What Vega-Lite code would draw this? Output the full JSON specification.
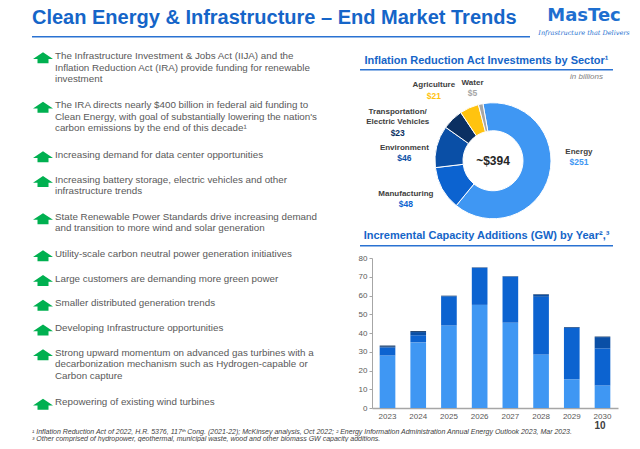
{
  "$schema": "https://vega.github.io/schema/vega-lite/v6.json",
  "background": "white",
  "padding": {"left": 32, "top": 6, "right": 0, "bottom": 0},
  "config": {
    "view": {"stroke": null},
    "font": "Liberation Sans",
    "title": {"font": "Liberation Sans", "subtitleFont": "Liberation Sans"},
    "axis": {"labelFont": "Liberation Sans", "titleFont": "Liberation Sans"},
    "legend": {"labelFont": "Liberation Sans"}
  },
  "datasets": {
    "bullets": [
      {"text": "The Infrastructure Investment & Jobs Act (IIJA) and the\nInflation Reduction Act (IRA) provide funding for renewable\ninvestment", "span": 4},
      {"text": "The IRA directs nearly $400 billion in federal aid funding to\nClean Energy, with goal of substantially lowering the nation's\ncarbon emissions by the end of this decade¹", "span": 4},
      {"text": "Increasing demand for data center opportunities", "span": 2},
      {"text": "Increasing battery storage, electric vehicles and other\ninfrastructure trends", "span": 3},
      {"text": "State Renewable Power Standards drive increasing demand\nand transition to more wind and solar generation", "span": 3},
      {"text": "Utility-scale carbon neutral power generation initiatives", "span": 2},
      {"text": "Large customers are demanding more green power", "span": 2},
      {"text": "Smaller distributed generation trends", "span": 2},
      {"text": "Developing Infrastructure opportunities", "span": 2},
      {"text": "Strong upward momentum on advanced gas turbines with a\ndecarbonization mechanism such as Hydrogen-capable or\nCarbon capture", "span": 4},
      {"text": "Repowering of existing wind turbines", "span": 2}
    ],
    "ira": [
      {"sector": "Energy", "value": 251},
      {"sector": "Manufacturing", "value": 48},
      {"sector": "Environment", "value": 46},
      {"sector": "Transportation/\nElectric Vehicles", "value": 23},
      {"sector": "Agriculture", "value": 21},
      {"sector": "Water", "value": 5}
    ],
    "capacity": [
      {"year": "2023", "source": "Solar", "k": 1, "gw": 28},
      {"year": "2023", "source": "Onshore Wind", "k": 2, "gw": 4.2},
      {"year": "2023", "source": "Offshore Wind", "k": 3, "gw": 0.5},
      {"year": "2023", "source": "Other", "k": 4, "gw": 0.6},
      {"year": "2024", "source": "Solar", "k": 1, "gw": 35},
      {"year": "2024", "source": "Onshore Wind", "k": 2, "gw": 3.8},
      {"year": "2024", "source": "Offshore Wind", "k": 3, "gw": 1.7},
      {"year": "2024", "source": "Other", "k": 4, "gw": 0.5},
      {"year": "2025", "source": "Solar", "k": 1, "gw": 44},
      {"year": "2025", "source": "Onshore Wind", "k": 2, "gw": 15.6},
      {"year": "2025", "source": "Offshore Wind", "k": 3, "gw": 0},
      {"year": "2025", "source": "Other", "k": 4, "gw": 0.3},
      {"year": "2026", "source": "Solar", "k": 1, "gw": 55},
      {"year": "2026", "source": "Onshore Wind", "k": 2, "gw": 19.8},
      {"year": "2026", "source": "Offshore Wind", "k": 3, "gw": 0},
      {"year": "2026", "source": "Other", "k": 4, "gw": 0.2},
      {"year": "2027", "source": "Solar", "k": 1, "gw": 45.5},
      {"year": "2027", "source": "Onshore Wind", "k": 2, "gw": 24.6},
      {"year": "2027", "source": "Offshore Wind", "k": 3, "gw": 0},
      {"year": "2027", "source": "Other", "k": 4, "gw": 0.2},
      {"year": "2028", "source": "Solar", "k": 1, "gw": 28.5},
      {"year": "2028", "source": "Onshore Wind", "k": 2, "gw": 30.8},
      {"year": "2028", "source": "Offshore Wind", "k": 3, "gw": 1.1},
      {"year": "2028", "source": "Other", "k": 4, "gw": 0.3},
      {"year": "2029", "source": "Solar", "k": 1, "gw": 15.3},
      {"year": "2029", "source": "Onshore Wind", "k": 2, "gw": 27.6},
      {"year": "2029", "source": "Offshore Wind", "k": 3, "gw": 0},
      {"year": "2029", "source": "Other", "k": 4, "gw": 0.3},
      {"year": "2030", "source": "Solar", "k": 1, "gw": 12},
      {"year": "2030", "source": "Onshore Wind", "k": 2, "gw": 19.8},
      {"year": "2030", "source": "Offshore Wind", "k": 3, "gw": 6},
      {"year": "2030", "source": "Other", "k": 4, "gw": 0.3}
    ]
  },
  "bounds": "flush",
  "spacing": 15,
  "vconcat": [
    {
      "bounds": "flush",
      "spacing": 4,
      "hconcat": [
        {
          "width": 498, "height": 1.5,
          "view": {"fill": "#2a72d2", "stroke": null},
          "title": {"text": "Clean Energy & Infrastructure – End Market Trends", "anchor": "start", "fontSize": 20, "fontWeight": "bold", "color": "#1565C8", "offset": 8},
          "data": {"values": []},
          "mark": "point"
        },
        {
          "width": 100, "height": 1.5,
          "title": {"text": "MasTec", "subtitle": "Infrastructure that Delivers", "anchor": "middle", "font": "DejaVu Sans", "fontSize": 18, "fontWeight": "bold", "color": "#1e6fd0", "subtitleFont": "DejaVu Serif", "subtitleFontStyle": "italic", "subtitleFontSize": 6.5, "subtitleColor": "#1e6fd0", "subtitlePadding": 5, "offset": 0},
          "data": {"values": []},
          "mark": "point"
        }
      ]
    },
    {
      "bounds": "flush",
      "spacing": 294,
      "hconcat": [
        {
          "width": 34, "height": 346.4,
          "title": {"text": "¹ Inflation Reduction Act of 2022, H.R. 5376, 117ᵗʰ Cong. (2021-22); McKinsey analysis, Oct 2022; ² Energy Information Administration Annual Energy Outlook 2023, Mar 2023.", "subtitle": "³ Other comprised of hydropower, geothermal, municipal waste, wood and other biomass GW capacity additions.", "orient": "bottom", "anchor": "start", "fontSize": 7, "fontStyle": "italic", "fontWeight": "normal", "color": "#404040", "subtitleFontSize": 7, "subtitleFontStyle": "italic", "subtitleColor": "#404040", "subtitlePadding": 0, "offset": 18},
          "data": {"name": "bullets"},
          "transform": [{"window": [{"op": "sum", "field": "span", "as": "start"}], "frame": [null, -1]}],
          "encoding": {
            "y": {"field": "start", "type": "quantitative", "scale": {"domain": [0, 28], "reverse": true, "zero": false, "nice": false}, "axis": null}
          },
          "layer": [
            {
              "mark": {"type": "point", "invalid": "show", "shape": "M-1,0.8L0,0.13L1,0.8L0.55,0.8L0.55,1.23L-0.55,1.23L-0.55,0.8Z", "size": 400, "filled": true, "fill": "#00b050", "strokeWidth": 0, "opacity": 1},
              "encoding": {"x": {"datum": "icon", "type": "nominal", "scale": {"domain": ["icon", "text"], "padding": 0.9167}, "axis": null}}
            },
            {
              "mark": {"type": "text", "invalid": "show", "align": "left", "baseline": "top", "lineBreak": "\n", "lineHeight": 11.5, "fontSize": 9.8, "color": "#595959"},
              "encoding": {"x": {"datum": "text", "type": "nominal"}, "text": {"field": "text", "type": "nominal"}}
            }
          ]
        },
        {
          "bounds": "flush",
          "spacing": 11,
          "vconcat": [
            {"width": 1, "height": 6.5, "data": {"values": []}, "mark": "point"},
            {
              "width": 253, "height": 1.5,
              "view": {"fill": "#2a72d2", "stroke": null},
              "title": {"text": "Inflation Reduction Act Investments by Sector¹", "anchor": "middle", "fontSize": 11, "fontWeight": "bold", "color": "#1565C8", "offset": 3},
              "data": {"values": []},
              "mark": "point"
            },
            {
              "width": 266, "height": 151.5,
              "title": {"text": "in billions", "anchor": "end", "dx": -23, "fontSize": 8, "fontStyle": "italic", "fontWeight": "normal", "color": "#7f7f7f", "offset": -2},
              "layer": [
                {
                  "data": {"name": "ira"},
                  "mark": {"type": "arc", "outerRadius": 58, "innerRadius": 30, "stroke": "white", "strokeWidth": 1, "yOffset": 3},
                  "encoding": {
                    "theta": {"field": "value", "type": "quantitative", "stack": true, "scale": {"range": [-0.1745, 6.1087]}},
                    "order": {"field": "value", "type": "quantitative", "sort": "descending"},
                    "color": {"field": "sector", "type": "nominal", "scale": {"domain": ["Energy", "Manufacturing", "Environment", "Transportation/\nElectric Vehicles", "Agriculture", "Water"], "range": ["#3f97f3", "#0c63d0", "#0a4fa6", "#0b3062", "#ffc30f", "#a6a6a6"]}, "legend": null}
                  }
                },
                {
                  "data": {"name": "ira"},
                  "mark": {"type": "text", "yOffset": 3,
                    "radius": {"expr": "datum.sector == 'Energy' ? 86 : datum.sector == 'Manufacturing' ? 95 : datum.sector == 'Environment' ? 89 : datum.sector == 'Agriculture' ? 92 : datum.sector == 'Water' ? 76 : 101"},
                    "thetaOffset": {"expr": "datum.sector == 'Energy' ? -0.303 : datum.sector == 'Manufacturing' ? 0.091 : datum.sector == 'Environment' ? -0.159 : datum.sector == 'Agriculture' ? -0.277 : datum.sector == 'Water' ? -0.058 : -0.46"},
                    "dy": {"expr": "-1 - (length(split(datum.sector, '\\n')) - 1) * 10"},
                    "baseline": "bottom", "lineBreak": "\n", "lineHeight": 10, "fontSize": 8, "fontWeight": "bold", "color": "#404040"},
                  "encoding": {
                    "theta": {"field": "value", "type": "quantitative", "stack": true},
                    "order": {"field": "value", "type": "quantitative", "sort": "descending"},
                    "text": {"field": "sector", "type": "nominal"}
                  }
                },
                {
                  "data": {"name": "ira"},
                  "mark": {"type": "text", "yOffset": 3,
                    "radius": {"expr": "datum.sector == 'Energy' ? 86 : datum.sector == 'Manufacturing' ? 95 : datum.sector == 'Environment' ? 89 : datum.sector == 'Agriculture' ? 92 : datum.sector == 'Water' ? 76 : 101"},
                    "thetaOffset": {"expr": "datum.sector == 'Energy' ? -0.303 : datum.sector == 'Manufacturing' ? 0.091 : datum.sector == 'Environment' ? -0.159 : datum.sector == 'Agriculture' ? -0.277 : datum.sector == 'Water' ? -0.058 : -0.46"},
                    "baseline": "top", "dy": 1.5, "fontSize": 8.5, "fontWeight": "bold"},
                  "encoding": {
                    "theta": {"field": "value", "type": "quantitative", "stack": true},
                    "order": {"field": "value", "type": "quantitative", "sort": "descending"},
                    "color": {"field": "sector", "type": "nominal", "legend": null},
                    "text": {"field": "value", "type": "quantitative", "format": "$,d"}
                  }
                },
                {
                  "data": {"values": [{"total": "~$394"}]},
                  "mark": {"type": "text", "fontSize": 12, "fontWeight": "bold", "color": "#262626", "yOffset": 3},
                  "encoding": {"text": {"field": "total", "type": "nominal"}}
                }
              ]
            },
            {
              "width": 253, "height": 1.5,
              "view": {"fill": "#2a72d2", "stroke": null},
              "title": {"text": "Incremental Capacity Additions (GW) by Year²,³", "anchor": "middle", "fontSize": 11, "fontWeight": "bold", "color": "#1565C8", "offset": 4},
              "data": {"values": []},
              "mark": "point"
            },
            {
              "bounds": "flush",
              "spacing": 0,
              "hconcat": [
                {"width": 12, "height": 150, "data": {"values": []}, "mark": "point"},
                {
                  "width": 246, "height": 150,
                  "data": {"name": "capacity"},
                  "mark": {"type": "bar"},
                  "encoding": {
                    "x": {"field": "year", "type": "ordinal", "scale": {"paddingInner": 0.49, "paddingOuter": 0.25},
                      "axis": {"labelAngle": 0, "labelFontSize": 8, "labelColor": "#595959", "ticks": false, "domainColor": "#a6a6a6", "domainWidth": 1.5, "labelPadding": 4, "title": "10", "titleAnchor": "end", "titleAlign": "right", "titleX": 233, "titleFontSize": 10, "titleFontWeight": "bold", "titleColor": "#404040", "titlePadding": 0}},
                    "y": {"field": "gw", "type": "quantitative", "stack": true, "scale": {"domain": [0, 80]},
                      "axis": {"values": [0, 10, 20, 30, 40, 50, 60, 70, 80], "grid": false, "labelFontSize": 8, "labelColor": "#595959", "domainColor": "#a6a6a6", "tickColor": "#a6a6a6", "tickSize": 3, "title": null, "labelPadding": 2}},
                    "color": {"field": "source", "type": "nominal",
                      "scale": {"domain": ["Solar", "Onshore Wind", "Offshore Wind", "Other"], "range": ["#3d96f4", "#0b63d0", "#f47b20", "#0b2f5e"]},
                      "legend": {"orient": "top-left", "title": null, "offset": 4, "symbolType": "square", "symbolSize": 16, "labelFontSize": 7, "labelColor": "#595959", "rowPadding": 9, "symbolStrokeWidth": 0}},
                    "order": {"field": "k", "type": "quantitative"}
                  }
                }
              ]
            }
          ]
        }
      ]
    }
  ]
}
